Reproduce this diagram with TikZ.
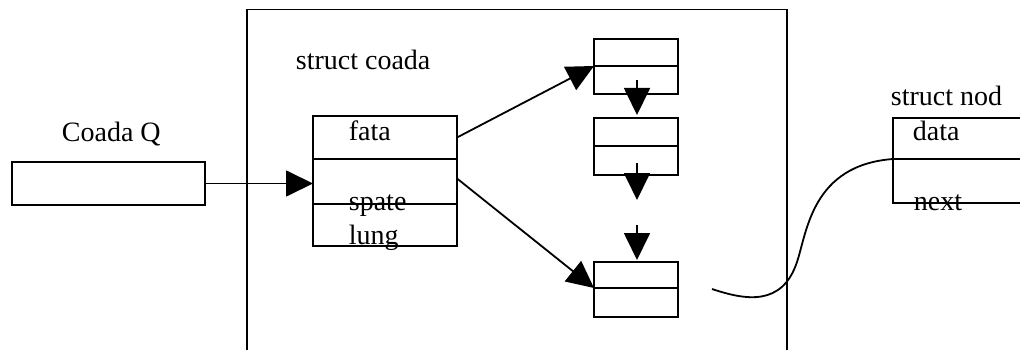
\documentclass[tikz,border=0pt]{standalone}
\usepackage{fontspec}
\setmainfont{Liberation Serif}
\usetikzlibrary{arrows.meta,calc}
\begin{document}
\begin{tikzpicture}[x=1pt,y=-1pt,
  line width=1.8pt,
  cell/.style={draw, rectangle, inner sep=0pt, outer sep=0pt},
  lbl/.style={inner sep=0pt, anchor=base west, font=\fontsize{28}{33}\selectfont},
  arr/.style={-{Triangle[length=27pt,width=26pt]}},
]
\useasboundingbox (0,0) rectangle (1020,350);
% outer frame (open at the bottom)
\draw (247,352) -- (247,9.5) -- (787,9.5) -- (787,352);
% Coada Q
\node[cell, minimum width=193pt, minimum height=43pt] (q) at (108.5,183.5) {};
\node[lbl] (tq) at (61,142) {Coada Q};
% struct coada
\node[lbl] (tsc) at (295,70) {struct coada};
\node[cell, minimum width=144pt, minimum height=43pt] (cf) at (385,137.5) {};
\node[cell, minimum width=144pt, minimum height=45pt] (cs) at (385,181.5) {};
\node[cell, minimum width=144pt, minimum height=42pt] (cl) at (385,225) {};
\node[lbl] (tf) at (348,141) {fata};
\node[lbl] (ts) at (348,210) {spate};
\node[lbl] (tl) at (348,244) {lung};
% list nodes
\node[cell, minimum width=84pt, minimum height=27pt] (n1a) at (636,52.5) {};
\node[cell, minimum width=84pt, minimum height=28pt] (n1b) at (636,80) {};
\node[cell, minimum width=84pt, minimum height=28pt] (n2a) at (636,132) {};
\node[cell, minimum width=84pt, minimum height=29pt] (n2b) at (636,160.5) {};
\node[cell, minimum width=84pt, minimum height=26pt] (n3a) at (636,275) {};
\node[cell, minimum width=84pt, minimum height=29pt] (n3b) at (636,302.5) {};
\coordinate (e2) at (637,200);
\coordinate (s3) at (637,225);
% struct nod
\node[lbl] (tsn) at (890,106) {struct nod};
\node[cell, minimum width=160pt, minimum height=41pt] (da) at (973,138.5) {};
\node[cell, minimum width=160pt, minimum height=44pt] (nx) at (973,181) {};
\node[lbl] (td) at (912,141) {data};
\node[lbl] (tn) at (913,210) {next};
% connectors
\draw[arr] (q.east) -- (q.east -| cs.west);
\draw[arr] (cf.east) -- (n1a.south west);
\draw[arr] ($(cs.east)+(0,-3)$) -- (n3a.south west);
\draw[arr] ($(n1b.center)+(1,0)$) -- ($(n2a.north)+(1,-3)$);
\draw[arr] ($(n2b.center)+(1,3)$) -- (e2);
\draw[arr] (s3) -- ($(n3a.north)+(1,-2)$);
\coordinate (c0) at (712,289);
\draw (c0) .. controls (745,300) and (782,307) .. (797,262)
           .. controls (807,232) and (812,165) .. (da.south west);
\end{tikzpicture}
\end{document}
